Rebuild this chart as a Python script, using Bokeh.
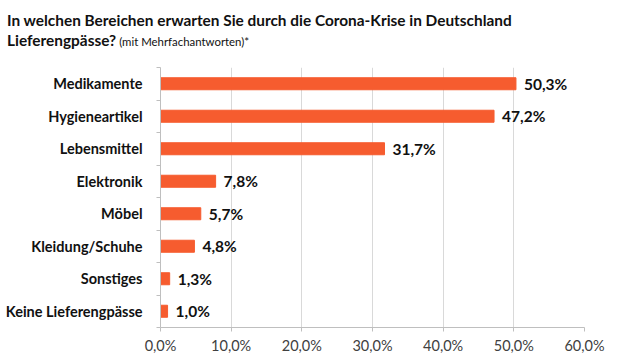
from bokeh.plotting import figure
from bokeh.models import FixedTicker, ColumnDataSource, Range1d, Div
from bokeh.layouts import column
from bokeh.core.properties import value
from bokeh.embed import file_html
from bokeh.resources import INLINE

categories = ["Medikamente", "Hygieneartikel", "Lebensmittel", "Elektronik",
              "Möbel", "Kleidung/Schuhe", "Sonstiges", "Keine Lieferengpässe"]
values = [50.3, 47.2, 31.7, 7.8, 5.7, 4.8, 1.3, 1.0]
x_ticks = [0, 10, 20, 30, 40, 50, 60]
x_tick_labels = ["0,0%", "10,0%", "20,0%", "30,0%", "40,0%", "50,0%", "60,0%"]
title_line1 = "In welchen Bereichen erwarten Sie durch die Corona-Krise in Deutschland"
title_line2 = "Lieferengpässe?"
title_note = "(mit Mehrfachantworten)*"

FONT = "Lato"
BAR = "#F65C2F"
TXT = "#111111"

n = len(categories)
ypos = [n - 1 - i for i in range(n)]
labels = [f"{v:.1f}".replace(".", ",") + "%" for v in values]
src = ColumnDataSource(dict(y=ypos, v=values, lab=labels))

# ---- title ----
title_html = (
    f'<div style="font-family:{FONT};color:{TXT};line-height:19px;'
    f'padding:11px 0 0 7px;margin:0;white-space:nowrap;">'
    f'<b style="font-size:15.4px">{title_line1}</b><br>'
    f'<b style="font-size:15.4px">{title_line2}</b> '
    f'<span style="font-size:11.4px">{title_note}</span></div>'
)
t = Div(text=title_html, width=612, height=67, margin=0)

# ---- chart ----
p = figure(width=612, height=289, output_backend="svg", toolbar_location=None,
           x_range=Range1d(0, 60), y_range=Range1d(-0.5, n - 0.5),
           min_border_left=160, min_border_right=28, min_border_top=0,
           min_border_bottom=27, outline_line_color=None)

p.hbar(y="y", right="v", left=0, height=0.37, source=src, color=BAR)
p.text(x="v", y="y", text="lab", source=src, x_offset=8,
       text_font=value(FONT), text_font_style="bold", text_font_size="15.5px",
       text_baseline="middle", text_align="left", text_color=TXT)

p.xaxis.ticker = FixedTicker(ticks=x_ticks)
p.xaxis.major_label_overrides = {t_: l for t_, l in zip(x_ticks, x_tick_labels)}
p.xaxis.major_label_text_font = FONT
p.xaxis.major_label_text_font_size = "14.5px"
p.xaxis.major_label_text_color = "#404040"
p.xaxis.axis_line_color = "#BFBFBF"
p.xaxis.major_tick_line_color = "#BFBFBF"
p.xaxis.major_tick_out = 4
p.xaxis.major_tick_in = 0
p.xaxis.minor_tick_line_color = None
p.xaxis.major_label_standoff = 5

p.yaxis.ticker = FixedTicker(ticks=ypos, minor_ticks=[k + 0.5 for k in range(-1, n)])
p.yaxis.major_label_overrides = {y: c for y, c in zip(ypos, categories)}
p.yaxis.major_label_text_font = FONT
p.yaxis.major_label_text_font_style = "bold"
p.yaxis.major_label_text_font_size = "14.5px"
p.yaxis.major_label_text_color = TXT
p.yaxis.axis_line_color = "#BFBFBF"
p.yaxis.major_tick_line_color = None
p.yaxis.major_tick_out = 0
p.yaxis.major_tick_in = 0
p.yaxis.minor_tick_line_color = "#BFBFBF"
p.yaxis.minor_tick_out = 4
p.yaxis.minor_tick_in = 0
p.yaxis.major_label_standoff = 14

p.xgrid.grid_line_color = "#D9D9D9"
p.ygrid.grid_line_color = None

open("out.html", "w").write(file_html(column(t, p, spacing=0), INLINE))
